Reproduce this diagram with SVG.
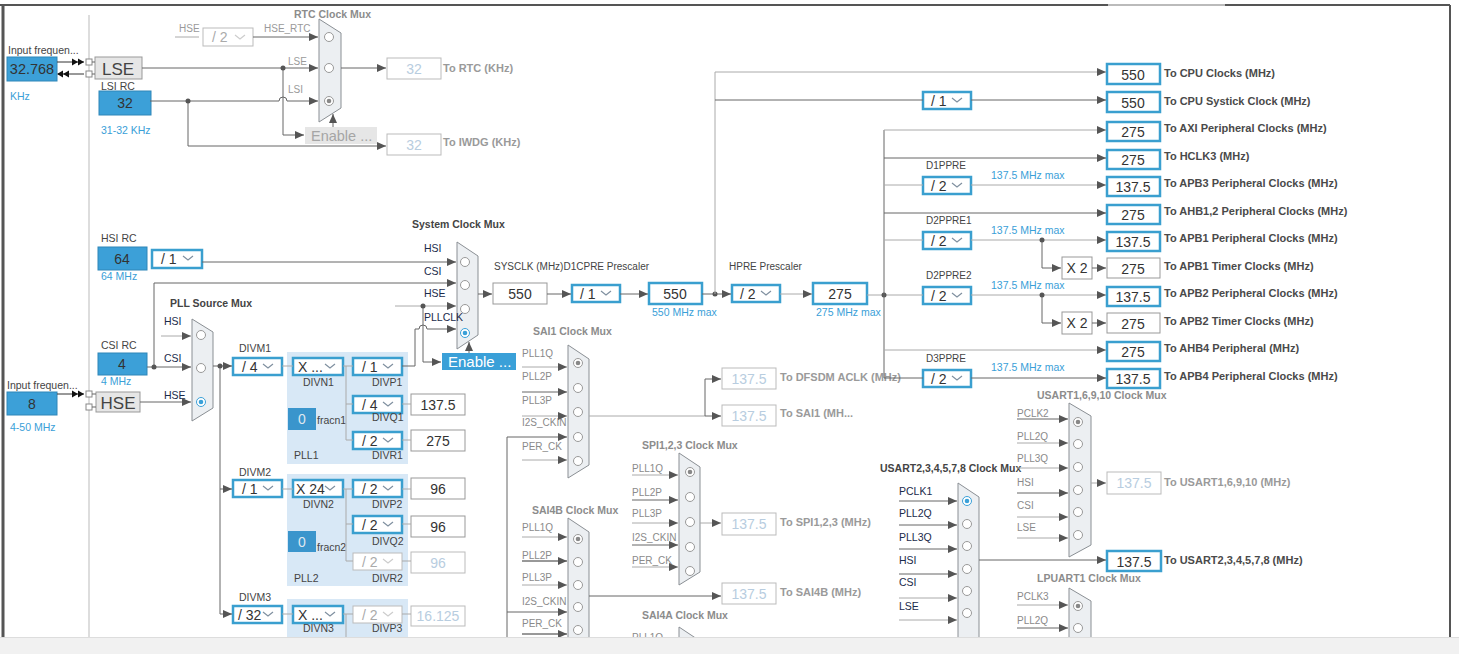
<svg xmlns="http://www.w3.org/2000/svg" xmlns:xlink="http://www.w3.org/1999/xlink" width="1459" height="654" viewBox="0 0 1459 654">
<defs>
<style>
.c{fill:none;stroke:#666;stroke-width:1}
.cl{fill:none;stroke:#aaa;stroke-width:1}
.cd{fill:none;stroke:#333;stroke-width:1}
.a{marker-end:url(#ar)}
.bb{fill:#fff;stroke:#3a9fcf;stroke-width:2.5}
.gb{fill:#fff;stroke:#999;stroke-width:1}
.db{fill:#fff;stroke:#bbb;stroke-width:1}
.ib{fill:#3ca0d8;stroke:#2f86b8;stroke-width:1}
.gr{fill:#e6e6e6;stroke:#999;stroke-width:1}
.mx{fill:#eceff2;stroke:#8a8f94;stroke-width:1}
.ci{fill:#fff;stroke:#999;stroke-width:1}
.cb{fill:#fff;stroke:#3aa0d8;stroke-width:1}
.pn{fill:#d8e8f6}
.dot{fill:#555}
text{font-family:"Liberation Sans",Arial,sans-serif}
.t{font-size:10.5px;fill:#444}
.s{font-size:10px;fill:#8a8a8a}
.n{font-size:10.5px;fill:#1b2b4b}
.h{font-size:10.5px;font-weight:bold;fill:#8c8c8c}
.hd{font-size:10.5px;font-weight:bold;fill:#444}
.o{font-size:11px;font-weight:bold;fill:#4a4a4a}
.od{font-size:11px;font-weight:bold;fill:#9a9a9a}
.bl{font-size:10.5px;fill:#3aa0d8}
.v{font-size:14px;fill:#333;text-anchor:middle}
.vd{font-size:14px;fill:#b8cde0;text-anchor:middle}
.dd{font-size:14px;fill:#333}
.ddd{font-size:14px;fill:#aaa}
</style>
<marker id="ar" markerWidth="9" markerHeight="8" refX="9" refY="4" orient="auto" markerUnits="userSpaceOnUse"><path d="M0,0 L9,4 L0,8 z" fill="#555"/></marker>
<path id="chev" d="M0,0 L5,4 L10,0" fill="none" stroke="#7f8f9f" stroke-width="1.2"/>
<path id="chevd" d="M0,0 L5,4 L10,0" fill="none" stroke="#ccc" stroke-width="1.2"/>
</defs>
<rect x="0" y="0" width="1459" height="654" fill="#fff"/>
<g id="frame">
<path d="M0,5 H1450" stroke="#555" stroke-width="2" fill="none"/>
<path d="M1108,5 H1225" stroke="#bbb" stroke-width="2" fill="none"/>
<path d="M3,5 V637" stroke="#555" stroke-width="3" fill="none"/>
<path d="M1450,5 V637" stroke="#555" stroke-width="2" fill="none"/>
<path d="M89,15 V637" stroke="#bbb" stroke-width="1" fill="none"/>
</g>

<!-- ===== NODES ===== -->
<g id="n-lse-in">
<text class="t" x="8" y="54">Input frequen...</text>
<rect class="ib" x="7" y="57" width="50" height="24"/>
<text class="v" x="32" y="74" style="font-size:14.5px">32.768</text>
<text class="bl" x="10" y="100">KHz</text>
<rect x="86" y="59" width="6" height="6" fill="#fff" stroke="#888"/>
<rect x="86" y="71" width="6" height="6" fill="#fff" stroke="#888"/>
</g>
<g id="n-lse"><rect class="gr" x="95" y="57" width="47" height="22"/><text x="118" y="75" style="font-size:17px;fill:#444;text-anchor:middle">LSE</text></g>
<g id="n-lsi">
<text class="t" x="101" y="90">LSI RC</text>
<rect class="ib" x="99" y="91" width="52" height="24"/>
<text class="v" x="125" y="108">32</text>
<text class="bl" x="101" y="134">31-32 KHz</text>
</g>
<g id="n-rtc-div">
<text class="s" x="179" y="32" style="fill:#9a9a9a">HSE</text>
<rect class="db" x="203" y="28" width="50" height="18"/>
<text class="ddd" x="212" y="42">/ 2</text><use href="#chevd" x="235" y="35"/>
<text class="s" x="264" y="32" style="fill:#9a9a9a">HSE_RTC</text>
</g>
<g id="n-rtc-mux">
<text class="h" x="294" y="18">RTC Clock Mux</text>
<path class="mx" d="M319,19 L341,33 L341,108 L319,122 Z"/>
<circle class="ci" cx="329" cy="37" r="4.5"/><circle class="ci" cx="329" cy="68" r="4.5"/><circle class="ci" cx="329" cy="101" r="4.5"/><circle cx="329" cy="101" r="2.3" fill="#888"/>
<text class="s" x="288" y="65" style="fill:#9a9a9a">LSE</text>
<text class="s" x="288" y="93" style="fill:#9a9a9a">LSI</text>
</g>
<g id="n-rtc-enable"><rect x="305" y="127" width="72" height="17" fill="#e6e6e6"/><text x="311" y="141" style="font-size:14.5px;fill:#a5a5a5">Enable ...</text></g>
<g id="n-rtc-out"><rect class="db" x="387" y="58" width="54" height="21"/><text class="vd" x="414" y="74">32</text><text class="od" x="443" y="72">To RTC (KHz)</text></g>
<g id="n-iwdg-out"><rect class="db" x="387" y="134" width="54" height="21"/><text class="vd" x="414" y="150">32</text><text class="od" x="443" y="146">To IWDG (KHz)</text></g>

<g id="n-hsi">
<text class="t" x="101" y="242">HSI RC</text>
<rect class="ib" x="98" y="247" width="49" height="23"/>
<text class="v" x="122" y="264">64</text>
<text class="bl" x="101" y="280">64 MHz</text>
</g>
<g id="n-hsi-div"><rect class="bb" x="152" y="250" width="50" height="18"/><text class="dd" x="161" y="264">/ 1</text><use href="#chev" x="183" y="256"/></g>
<g id="n-csi">
<text class="t" x="101" y="349">CSI RC</text>
<rect class="ib" x="98" y="353" width="49" height="22"/>
<text class="v" x="122" y="369">4</text>
<text class="bl" x="101" y="385">4 MHz</text>
</g>
<g id="n-hse-in">
<text class="t" x="7" y="389">Input frequen...</text>
<rect class="ib" x="7" y="392" width="50" height="23"/>
<text class="v" x="32" y="409">8</text>
<text class="bl" x="10" y="431">4-50 MHz</text>
<rect x="86" y="391" width="6" height="6" fill="#fff" stroke="#888"/>
<rect x="86" y="404" width="6" height="6" fill="#fff" stroke="#888"/>
</g>
<g id="n-hse"><rect class="gr" x="96" y="392" width="44" height="20"/><text x="118" y="409" style="font-size:17px;fill:#444;text-anchor:middle">HSE</text></g>

<g id="n-pll-src-mux">
<text class="hd" x="170" y="307">PLL Source Mux</text>
<path class="mx" d="M192,319 L213,332 L213,408 L192,421 Z"/>
<circle class="ci" cx="201" cy="335" r="4.5"/><circle class="ci" cx="201" cy="368" r="4.5"/><circle class="cb" cx="201" cy="402" r="4.5"/><circle cx="201" cy="402" r="2.3" fill="#3aa0d8"/>
<text class="n" x="164" y="325">HSI</text>
<text class="n" x="164" y="362">CSI</text>
<text class="n" x="164" y="399">HSE</text>
</g>

<g id="n-sys-mux">
<text class="hd" x="412" y="228">System Clock Mux</text>
<path class="mx" d="M457,242 L478,256 L478,335 L457,349 Z"/>
<circle class="ci" cx="465" cy="262" r="4.5"/><circle class="ci" cx="465" cy="285" r="4.5"/><circle class="ci" cx="465" cy="309" r="4.5"/><circle class="cb" cx="465" cy="333" r="4.5"/><circle cx="465" cy="333" r="2.3" fill="#3aa0d8"/>
<text class="n" x="424" y="252">HSI</text>
<text class="n" x="424" y="275">CSI</text>
<text class="n" x="424" y="297">HSE</text>
<text class="n" x="424" y="321">PLLCLK</text>
</g>
<g id="n-sys-enable"><rect x="442" y="353" width="74" height="17" fill="#3aa0d8"/><text x="448" y="367" style="font-size:15px;fill:#fff">Enable ...</text></g>

<g id="n-sysclk"><text class="t" x="494" y="270" style="font-size:10px">SYSCLK (MHz)D1CPRE Prescaler</text><rect class="gb" x="493" y="283" width="54" height="21"/><text class="v" x="520" y="299">550</text></g>
<g id="n-d1cpre"><rect class="bb" x="572" y="285" width="48" height="17"/><text class="dd" x="580" y="299">/ 1</text><use href="#chev" x="601" y="291"/></g>
<g id="n-ahb"><rect class="bb" x="649" y="283" width="53" height="21"/><text class="v" x="675" y="299">550</text><text class="bl" x="652" y="316">550 MHz max</text></g>
<g id="n-hpre"><text class="t" x="729" y="270" style="font-size:10px">HPRE Prescaler</text><rect class="bb" x="732" y="285" width="48" height="17"/><text class="dd" x="740" y="299">/ 2</text><use href="#chev" x="761" y="291"/></g>
<g id="n-hclk"><rect class="bb" x="813" y="283" width="54" height="21"/><text class="v" x="840" y="299">275</text><text class="bl" x="816" y="316">275 MHz max</text></g>

<!-- right column -->
<g id="n-cpu"><rect class="bb" x="1107" y="64" width="53" height="20"/><text class="v" x="1133" y="80">550</text><text class="o" x="1164" y="77">To CPU Clocks (MHz)</text></g>
<g id="n-systick-div"><rect class="bb" x="923" y="92" width="48" height="17"/><text class="dd" x="931" y="106">/ 1</text><use href="#chev" x="952" y="98"/></g>
<g id="n-systick"><rect class="bb" x="1107" y="92" width="53" height="20"/><text class="v" x="1133" y="108">550</text><text class="o" x="1164" y="105">To CPU Systick Clock (MHz)</text></g>
<g id="n-axi"><rect class="bb" x="1107" y="122" width="53" height="19"/><text class="v" x="1133" y="137">275</text><text class="o" x="1164" y="132">To AXI Peripheral Clocks (MHz)</text></g>
<g id="n-hclk3"><rect class="bb" x="1107" y="150" width="53" height="19"/><text class="v" x="1133" y="165">275</text><text class="o" x="1164" y="160">To HCLK3 (MHz)</text></g>
<g id="n-d1ppre"><text class="t" x="926" y="169" style="font-size:10px">D1PPRE</text><rect class="bb" x="923" y="177" width="48" height="17"/><text class="dd" x="931" y="191">/ 2</text><use href="#chev" x="952" y="183"/><text class="bl" x="991" y="179">137.5 MHz max</text></g>
<g id="n-apb3"><rect class="bb" x="1107" y="177" width="53" height="19"/><text class="v" x="1133" y="192">137.5</text><text class="o" x="1164" y="187">To APB3 Peripheral Clocks (MHz)</text></g>
<g id="n-ahb12"><rect class="bb" x="1107" y="205" width="53" height="19"/><text class="v" x="1133" y="220">275</text><text class="o" x="1164" y="215">To AHB1,2 Peripheral Clocks (MHz)</text></g>
<g id="n-d2ppre1"><text class="t" x="926" y="224" style="font-size:10px">D2PPRE1</text><rect class="bb" x="923" y="232" width="48" height="17"/><text class="dd" x="931" y="246">/ 2</text><use href="#chev" x="952" y="238"/><text class="bl" x="991" y="234">137.5 MHz max</text></g>
<g id="n-apb1"><rect class="bb" x="1107" y="232" width="53" height="19"/><text class="v" x="1133" y="247">137.5</text><text class="o" x="1164" y="242">To APB1 Peripheral Clocks (MHz)</text></g>
<g id="n-x2a"><rect class="gb" x="1062" y="257" width="30" height="22"/><text class="v" x="1077" y="273">X 2</text></g>
<g id="n-apb1t"><rect class="gb" x="1107" y="258" width="53" height="20"/><text class="v" x="1133" y="274">275</text><text class="o" x="1164" y="270">To APB1 Timer Clocks (MHz)</text></g>
<g id="n-d2ppre2"><text class="t" x="926" y="279" style="font-size:10px">D2PPRE2</text><rect class="bb" x="923" y="287" width="48" height="17"/><text class="dd" x="931" y="301">/ 2</text><use href="#chev" x="952" y="293"/><text class="bl" x="991" y="289">137.5 MHz max</text></g>
<g id="n-apb2"><rect class="bb" x="1107" y="287" width="53" height="19"/><text class="v" x="1133" y="302">137.5</text><text class="o" x="1164" y="297">To APB2 Peripheral Clocks (MHz)</text></g>
<g id="n-x2b"><rect class="gb" x="1062" y="312" width="30" height="22"/><text class="v" x="1077" y="328">X 2</text></g>
<g id="n-apb2t"><rect class="gb" x="1107" y="313" width="53" height="20"/><text class="v" x="1133" y="329">275</text><text class="o" x="1164" y="325">To APB2 Timer Clocks (MHz)</text></g>
<g id="n-ahb4"><rect class="bb" x="1107" y="342" width="53" height="19"/><text class="v" x="1133" y="357">275</text><text class="o" x="1164" y="352">To AHB4 Peripheral (MHz)</text></g>
<g id="n-d3ppre"><text class="t" x="926" y="362" style="font-size:10px">D3PPRE</text><rect class="bb" x="923" y="370" width="48" height="17"/><text class="dd" x="931" y="384">/ 2</text><use href="#chev" x="952" y="376"/><text class="bl" x="991" y="371">137.5 MHz max</text></g>
<g id="n-apb4"><rect class="bb" x="1107" y="369" width="53" height="19"/><text class="v" x="1133" y="384">137.5</text><text class="o" x="1164" y="380">To APB4 Peripheral Clocks (MHz)</text></g>

<!-- PLLs -->
<g id="n-divm1"><text class="t" x="239" y="352">DIVM1</text><rect class="bb" x="233" y="358" width="49" height="17"/><text class="dd" x="242" y="372">/ 4</text><use href="#chev" x="263" y="364"/></g>
<g id="n-pll1">
<rect class="pn" x="287" y="352" width="121" height="112"/>
<rect class="bb" x="293" y="358" width="50" height="17"/><text class="dd" x="298" y="372">X ...</text><use href="#chev" x="325" y="364"/>
<text class="t" x="303" y="386">DIVN1</text>
<rect class="bb" x="353" y="358" width="49" height="17"/><text class="dd" x="362" y="372">/ 1</text><use href="#chev" x="383" y="364"/>
<text class="t" x="372" y="386">DIVP1</text>
<rect class="bb" x="353" y="396" width="49" height="17"/><text class="dd" x="362" y="410">/ 4</text><use href="#chev" x="383" y="402"/>
<text class="t" x="372" y="421">DIVQ1</text>
<rect class="bb" x="353" y="432" width="49" height="17"/><text class="dd" x="362" y="446">/ 2</text><use href="#chev" x="383" y="438"/>
<text class="t" x="372" y="459">DIVR1</text>
<rect x="288" y="408" width="28" height="22" fill="#3a95cc"/><text class="v" x="302" y="424" style="fill:#dfe8f0">0</text>
<text class="t" x="317" y="424">fracn1</text>
<text class="t" x="294" y="459">PLL1</text>
</g>
<g id="n-pll1q"><rect class="gb" x="411" y="394" width="54" height="21"/><text class="v" x="438" y="410">137.5</text></g>
<g id="n-pll1r"><rect class="gb" x="411" y="430" width="54" height="21"/><text class="v" x="438" y="446">275</text></g>

<g id="n-divm2"><text class="t" x="239" y="476">DIVM2</text><rect class="bb" x="233" y="480" width="49" height="17"/><text class="dd" x="242" y="494">/ 1</text><use href="#chev" x="263" y="486"/></g>
<g id="n-pll2">
<rect class="pn" x="287" y="474" width="121" height="112"/>
<rect class="bb" x="293" y="480" width="50" height="17"/><text class="dd" x="296" y="494">X 24</text><use href="#chev" x="325" y="486"/>
<text class="t" x="303" y="508">DIVN2</text>
<rect class="bb" x="353" y="480" width="49" height="17"/><text class="dd" x="362" y="494">/ 2</text><use href="#chev" x="383" y="486"/>
<text class="t" x="372" y="508">DIVP2</text>
<rect class="bb" x="353" y="516" width="49" height="17"/><text class="dd" x="362" y="530">/ 2</text><use href="#chev" x="383" y="522"/>
<text class="t" x="372" y="545">DIVQ2</text>
<rect class="db" x="353" y="553" width="49" height="17"/><text class="ddd" x="362" y="567">/ 2</text><use href="#chevd" x="383" y="559"/>
<text class="t" x="372" y="582">DIVR2</text>
<rect x="288" y="531" width="28" height="21" fill="#3a95cc"/><text class="v" x="302" y="547" style="fill:#dfe8f0">0</text>
<text class="t" x="317" y="551">fracn2</text>
<text class="t" x="294" y="582">PLL2</text>
</g>
<g id="n-pll2p"><rect class="gb" x="411" y="478" width="54" height="21"/><text class="v" x="438" y="494">96</text></g>
<g id="n-pll2q"><rect class="gb" x="411" y="516" width="54" height="21"/><text class="v" x="438" y="532">96</text></g>
<g id="n-pll2r"><rect class="db" x="411" y="552" width="54" height="21"/><text class="vd" x="438" y="568">96</text></g>

<g id="n-divm3"><text class="t" x="239" y="601">DIVM3</text><rect class="bb" x="233" y="606" width="49" height="17"/><text class="dd" x="238" y="620">/ 32</text><use href="#chev" x="263" y="612"/></g>
<g id="n-pll3">
<rect class="pn" x="287" y="599" width="121" height="60"/>
<rect class="bb" x="293" y="606" width="50" height="17"/><text class="dd" x="298" y="620">X ...</text><use href="#chev" x="325" y="612"/>
<text class="t" x="303" y="632">DIVN3</text>
<rect class="db" x="353" y="606" width="49" height="17"/><text class="ddd" x="362" y="620">/ 2</text><use href="#chevd" x="383" y="612"/>
<text class="t" x="372" y="632">DIVP3</text>
</g>
<g id="n-pll3p"><rect class="db" x="411" y="606" width="54" height="20"/><text class="vd" x="438" y="621">16.125</text></g>

<!-- SAI / SPI -->
<g id="n-sai1-mux">
<text class="h" x="533" y="335">SAI1 Clock Mux</text>
<path class="mx" d="M568,345 L589,359 L589,465 L568,478 Z"/>
<circle class="ci" cx="578" cy="363" r="4.5"/><circle cx="578" cy="363" r="2.3" fill="#888"/>
<circle class="ci" cx="578" cy="388" r="4.5"/><circle class="ci" cx="578" cy="412" r="4.5"/><circle class="ci" cx="578" cy="437" r="4.5"/><circle class="ci" cx="578" cy="461" r="4.5"/>
<text class="s" x="522" y="357">PLL1Q</text><text class="s" x="522" y="380">PLL2P</text><text class="s" x="522" y="404">PLL3P</text><text class="s" x="522" y="426">I2S_CKIN</text><text class="s" x="522" y="450">PER_CK</text>
</g>
<g id="n-dfsdm"><rect class="db" x="722" y="368" width="54" height="21"/><text class="vd" x="749" y="384">137.5</text><text class="od" x="780" y="381">To DFSDM ACLK (MHz)</text></g>
<g id="n-sai1"><rect class="db" x="722" y="405" width="54" height="21"/><text class="vd" x="749" y="421">137.5</text><text class="od" x="780" y="417">To SAI1 (MH...</text></g>
<g id="n-spi-mux">
<text class="h" x="642" y="449">SPI1,2,3 Clock Mux</text>
<path class="mx" d="M679,453 L700,467 L700,572 L679,585 Z"/>
<circle class="ci" cx="690" cy="472" r="4.5"/><circle cx="690" cy="472" r="2.3" fill="#888"/>
<circle class="ci" cx="690" cy="497" r="4.5"/><circle class="ci" cx="690" cy="522" r="4.5"/><circle class="ci" cx="690" cy="547" r="4.5"/><circle class="ci" cx="690" cy="571" r="4.5"/>
<text class="s" x="632" y="472">PLL1Q</text><text class="s" x="632" y="496">PLL2P</text><text class="s" x="632" y="517">PLL3P</text><text class="s" x="632" y="541">I2S_CKIN</text><text class="s" x="632" y="564">PER_CK</text>
</g>
<g id="n-spi"><rect class="db" x="722" y="513" width="54" height="22"/><text class="vd" x="749" y="529">137.5</text><text class="od" x="780" y="526">To SPI1,2,3 (MHz)</text></g>
<g id="n-sai4b-mux">
<text class="h" x="532" y="514">SAI4B Clock Mux</text>
<path class="mx" d="M568,518 L589,532 L589,680 L568,694 Z"/>
<circle class="ci" cx="578" cy="539" r="4.5"/><circle cx="578" cy="539" r="2.3" fill="#888"/>
<circle class="ci" cx="578" cy="562" r="4.5"/><circle class="ci" cx="578" cy="585" r="4.5"/><circle class="ci" cx="578" cy="607" r="4.5"/><circle class="ci" cx="578" cy="630" r="4.5"/>
<text class="s" x="522" y="531">PLL1Q</text><text class="s" x="522" y="559">PLL2P</text><text class="s" x="522" y="581">PLL3P</text><text class="s" x="522" y="605">I2S_CKIN</text><text class="s" x="522" y="627">PER_CK</text>
</g>
<g id="n-sai4b"><rect class="db" x="722" y="583" width="54" height="21"/><text class="vd" x="749" y="599">137.5</text><text class="od" x="780" y="596">To SAI4B (MHz)</text></g>
<g id="n-sai4a-mux">
<text class="h" x="642" y="619">SAI4A Clock Mux</text>
<path class="mx" d="M679,627 L700,641 L700,700 L679,700 Z"/>
<text class="s" x="632" y="641">PLL1Q</text>
</g>

<!-- USART -->
<g id="n-usart1-mux">
<text class="h" x="1037" y="399">USART1,6,9,10 Clock Mux</text>
<path class="mx" d="M1069,403 L1091,416 L1091,545 L1069,557 Z"/>
<circle class="ci" cx="1078" cy="422" r="4.5"/><circle cx="1078" cy="422" r="2.3" fill="#888"/>
<circle class="ci" cx="1078" cy="444" r="4.5"/><circle class="ci" cx="1078" cy="467" r="4.5"/><circle class="ci" cx="1078" cy="490" r="4.5"/><circle class="ci" cx="1078" cy="512" r="4.5"/><circle class="ci" cx="1078" cy="535" r="4.5"/>
<text class="s" x="1017" y="417">PCLK2</text><text class="s" x="1017" y="440">PLL2Q</text><text class="s" x="1017" y="462">PLL3Q</text><text class="s" x="1017" y="486">HSI</text><text class="s" x="1017" y="509">CSI</text><text class="s" x="1017" y="531">LSE</text>
</g>
<g id="n-usart1"><rect class="db" x="1107" y="472" width="54" height="22"/><text class="vd" x="1134" y="488">137.5</text><text class="od" x="1164" y="486">To USART1,6,9,10 (MHz)</text></g>
<g id="n-usart2-mux">
<text class="hd" x="880" y="472">USART2,3,4,5,7,8 Clock Mux</text>
<path class="mx" d="M958,483 L979,497 L979,660 L958,674 Z"/>
<circle class="cb" cx="967" cy="501" r="4.5"/><circle cx="967" cy="501" r="2.3" fill="#3aa0d8"/>
<circle class="ci" cx="967" cy="524" r="4.5"/><circle class="ci" cx="967" cy="546" r="4.5"/><circle class="ci" cx="967" cy="569" r="4.5"/><circle class="ci" cx="967" cy="591" r="4.5"/><circle class="ci" cx="967" cy="613" r="4.5"/>
<text class="n" x="899" y="495">PCLK1</text><text class="n" x="899" y="517">PLL2Q</text><text class="n" x="899" y="541">PLL3Q</text><text class="n" x="899" y="564">HSI</text><text class="n" x="899" y="586">CSI</text><text class="n" x="899" y="610">LSE</text>
</g>
<g id="n-usart2"><rect class="bb" x="1107" y="551" width="54" height="20"/><text class="v" x="1134" y="567">137.5</text><text class="o" x="1164" y="564">To USART2,3,4,5,7,8 (MHz)</text></g>
<g id="n-lpuart-mux">
<text class="h" x="1037" y="582">LPUART1 Clock Mux</text>
<path class="mx" d="M1069,588 L1091,601 L1091,700 L1069,700 Z"/>
<circle class="ci" cx="1078" cy="606" r="4.5"/><circle cx="1078" cy="606" r="2.3" fill="#888"/>
<circle class="ci" cx="1078" cy="628" r="4.5"/>
<text class="s" x="1017" y="600">PCLK3</text><text class="s" x="1017" y="624">PLL2Q</text>
</g>

<!-- ===== CONNECTORS ===== -->
<g id="connectors">
<!-- LSE / HSE input arrows -->
<path class="cd" d="M57,62 H84"/>
<polygon points="72,58.5 78,62 72,65.5" fill="#111"/><polygon points="78,58.5 84,62 78,65.5" fill="#111"/>
<path class="cd" d="M84,74 H58"/>
<polygon points="63,70.5 57,74 63,77.5" fill="#111"/><polygon points="69,70.5 63,74 69,77.5" fill="#111"/>
<path class="c" d="M92,62 H95 M92,74 H95"/>
<path class="cd" d="M57,394 H84"/>
<polygon points="72,390.5 78,394 72,397.5" fill="#111"/><polygon points="78,390.5 84,394 78,397.5" fill="#111"/>
<path class="c" d="M92,394 H96 M92,407 H96"/>
<!-- RTC -->
<path class="cl" d="M175,37 H199"/>
<path class="c a" d="M253,37 H318"/>
<path class="c a" d="M142,68 H318"/>
<path class="c a" d="M150,101 H279 A4,4 0 0 1 287,101 H318"/>
<path class="c a" d="M283,68 V135 H304"/>
<path class="c a" d="M333,127 V114"/>
<path class="c a" d="M341,68 H386"/>
<path class="c a" d="M188,101 V146 H386"/>
<circle class="dot" cx="283" cy="68" r="2.5"/>
<circle class="dot" cx="188" cy="101" r="2.5"/>
<!-- System clock mux inputs -->
<path class="c a" d="M202,262 H456"/>
<path class="c a" d="M154,367 V283 H456"/>
<path class="cl a" d="M395,306 H456"/>
<path class="c a" d="M423,306 V362 H441"/>
<path class="c a" d="M402,366 H415 V329 H419 A4,4 0 0 1 427,329 H456"/>
<circle class="dot" cx="423" cy="306" r="2.5"/>
<path class="c a" d="M469,353 V342"/>
<path class="c a" d="M478,294 H492"/>
<!-- PLL source -->
<path class="cl a" d="M161,336 H191"/>
<path class="c a" d="M147,367 H191"/>
<path class="c a" d="M140,402 H191"/>
<circle class="dot" cx="154" cy="367" r="2.5"/>
<path class="c a" d="M213,366 H232"/>
<path class="c" d="M220,366 V614"/>
<path class="c a" d="M220,489 H232"/>
<path class="c a" d="M220,614 H232"/>
<circle class="dot" cx="220" cy="366" r="2.5"/>
<!-- PLL internals -->
<path class="cl" d="M282,366 H293 M343,366 H353 M346,366 V440 M346,404 H353 M346,440 H353 M402,404 H411 M402,440 H411"/>
<path class="cl" d="M282,489 H293 M343,489 H353 M346,489 V561 M346,524 H353 M346,561 H353 M402,489 H411 M402,524 H411 M402,561 H411"/>
<path class="cl" d="M282,614 H293 M343,614 H353 M346,614 V645 M402,614 H411"/>
<!-- SYSCLK chain -->
<path class="c a" d="M547,294 H571"/>
<path class="c a" d="M620,294 H648"/>
<path class="c a" d="M702,294 H731"/>
<circle class="dot" cx="715" cy="294" r="2.5"/>
<path class="cl a" d="M780,294 H812"/>
<path class="cl" d="M867,295 H923"/>
<circle class="dot" cx="884" cy="295" r="2.5"/>
<!-- right column -->
<path class="cl a" d="M715,294 V72 H1106"/>
<path class="c" d="M715,100 H923"/>
<path class="c a" d="M971,100 H1106"/>
<path class="c" d="M884,130 V378"/>
<path class="cl a" d="M884,130 H1106"/>
<path class="c a" d="M884,158 H1106"/>
<path class="cl" d="M884,185 H923"/>
<path class="cl a" d="M971,185 H1106"/>
<path class="c a" d="M884,213 H1106"/>
<path class="cl" d="M884,240 H923"/>
<path class="cl a" d="M971,240 H1106"/>
<path class="c a" d="M1042,240 V268 H1061"/>
<path class="c a" d="M1092,268 H1106"/>
<circle class="dot" cx="1042" cy="240" r="2.5"/>
<path class="cl a" d="M971,295 H1106"/>
<path class="c a" d="M1042,295 V323 H1061"/>
<path class="c a" d="M1092,323 H1106"/>
<circle class="dot" cx="1042" cy="295" r="2.5"/>
<path class="cl a" d="M884,350 H1106"/>
<path class="c" d="M884,378 H923"/>
<path class="c a" d="M971,378 H1106"/>
<!-- SAI1 -->
<path class="cl a" d="M522,367 H567"/>
<path class="c a" d="M522,392 H567"/>
<path class="cl a" d="M522,416 H567"/>
<path class="c a" d="M507,437 H567"/>
<path class="c" d="M507,437 V645"/>
<path class="cl a" d="M522,460 H567"/>
<path class="cl" d="M589,416 H705"/>
<path class="c a" d="M705,416 H721"/>
<path class="c a" d="M705,416 V379 H721"/>
<!-- SPI -->
<path class="cl a" d="M632,475 H678"/>
<path class="c a" d="M632,500 H678"/>
<path class="cl a" d="M632,523 H678"/>
<path class="c a" d="M632,545 H678"/>
<path class="cl a" d="M632,567 H678"/>
<path class="cl a" d="M700,523 H721"/>
<!-- SAI4B -->
<path class="cl a" d="M522,537 H567"/>
<path class="cd a" d="M522,561 H567"/>
<path class="cl a" d="M522,585 H567"/>
<path class="c a" d="M507,612 H567"/>
<path class="cd a" d="M522,634 H567"/>
<path class="c a" d="M589,596 H721"/>
<!-- USART1 -->
<path class="c a" d="M1017,419 H1068"/>
<path class="cl a" d="M1017,443 H1068"/>
<path class="cl a" d="M1017,468 H1068"/>
<path class="c a" d="M1017,493 H1068"/>
<path class="cl a" d="M1017,517 H1068"/>
<path class="cl a" d="M1017,538 H1068"/>
<path class="cl a" d="M1091,483 H1106"/>
<!-- USART2 -->
<path class="c a" d="M899,501 H957"/>
<path class="c a" d="M899,525 H957"/>
<path class="c a" d="M899,549 H957"/>
<path class="c a" d="M899,574 H957"/>
<path class="cl a" d="M899,598 H957"/>
<path class="cl a" d="M899,620 H957"/>
<path class="c a" d="M979,560 H1106"/>
<!-- LPUART -->
<path class="cl a" d="M1017,605 H1068"/>
<path class="c a" d="M1017,628 H1068"/>
</g>

<g id="bottom-band">
<rect x="0" y="637" width="1459" height="17" fill="#f1f1f1"/>
<path d="M0,637.5 H1459" stroke="#ddd" stroke-width="1"/>
</g>
</svg>
